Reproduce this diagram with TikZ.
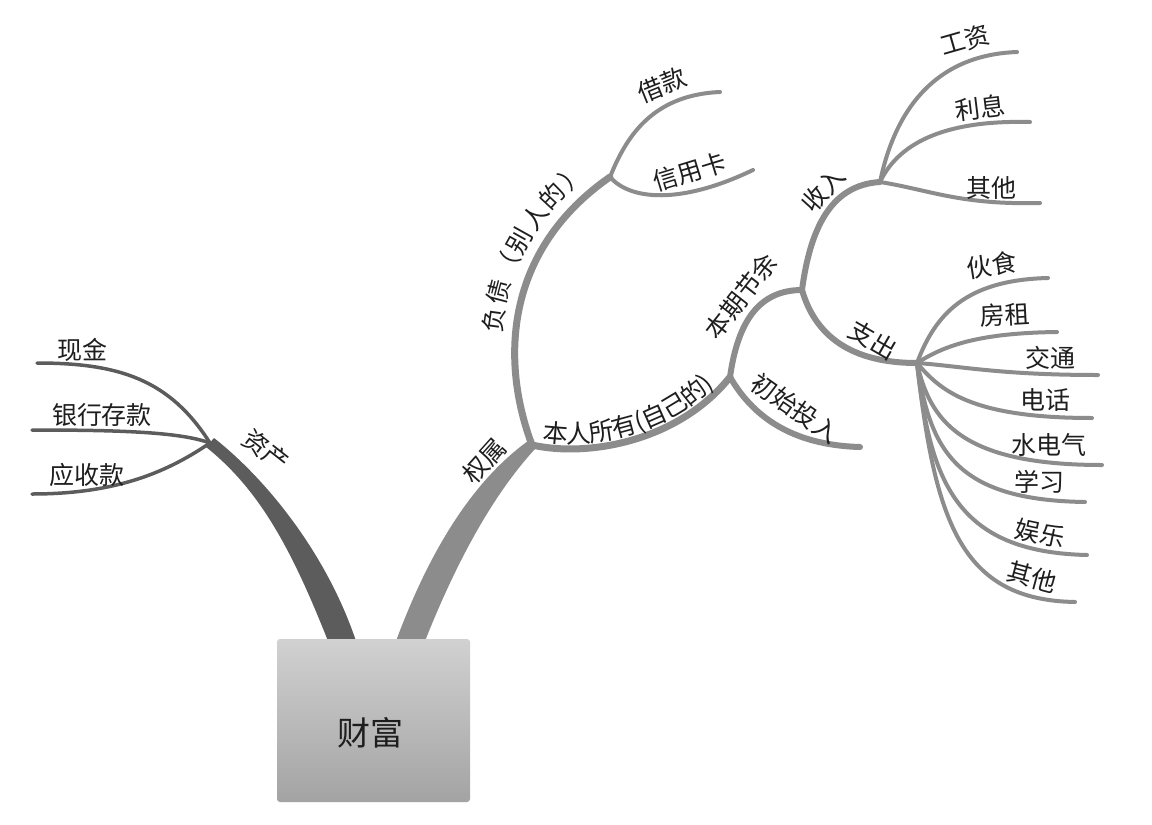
\documentclass[tikz,border=0pt]{standalone}
\usepackage{fontspec}
\setmainfont{Noto Sans CJK SC}
\usetikzlibrary{decorations.text}
\definecolor{br}{HTML}{8C8C8C}
\definecolor{brdark}{HTML}{5C5C5C}
\definecolor{txt}{HTML}{1E1E1E}
\begin{document}
\begin{tikzpicture}[x=1pt,y=-1pt,
  lbl/.style={font=\fontsize{25}{30}\selectfont, text=txt, inner sep=0pt},
  leaf/.style={draw=br, line width=4pt, line cap=round},
  midbr/.style={draw=br, line width=6pt, line cap=round},
  bigbr/.style={draw=br, line width=7pt, line cap=round},
  leafdark/.style={draw=brdark, line width=3.5pt, line cap=round},
  rootbox/.style={draw=none, top color=black!18, bottom color=black!36, rounded corners=3pt, minimum width=193pt, minimum height=163pt, inner sep=0pt},
  roottext/.style={font=\fontsize{33}{38}\selectfont, text=txt, inner sep=0pt},
  curvlbl/.style={decorate, decoration={text along path, text color=txt}}
]
\useasboundingbox (0,0) rectangle (1152,825);
\fill[white] (0,0) rectangle (1152,825);

% junctions
\coordinate (J0) at (210,443);
\coordinate (J1) at (532,445);
\coordinate (J2) at (610,177);
\coordinate (J6) at (730,377);
\coordinate (J3) at (802,290);
\coordinate (J4) at (880,182);
\coordinate (J5) at (917,363);
% leaf ends
\coordinate (eXianjin) at (37,363);
\coordinate (eYinhang) at (32,430);
\coordinate (eYingshou) at (32,494);
\coordinate (eJiekuan) at (720,92);
\coordinate (eXinyong) at (753,170);
\coordinate (eChushi) at (860,447);
\coordinate (eGongzi) at (1017,52);
\coordinate (eLixi) at (1030,122);
\coordinate (eQitaA) at (1040,203);
\coordinate (eHuoshi) at (1048,278);
\coordinate (eFangzu) at (1057,332);
\coordinate (eJiaotong) at (1098,375);
\coordinate (eDianhua) at (1092,418);
\coordinate (eShuidian) at (1102,465);
\coordinate (eXuexi) at (1085,502);
\coordinate (eYule) at (1087,555);
\coordinate (eQitaB) at (1075,602);

% trunks
\fill[brdark] (328,641) .. controls (292,550) and (260,490) .. (206,447)
   -- (214,438) .. controls (265,478) and (326,552) .. (356,641) -- cycle;
\fill[br] (396,641) .. controls (428,555) and (470,483) .. (528,441)
   -- (535,449) .. controls (490,498) and (454,568) .. (425,641) -- cycle;

% root box
\node[rootbox] (root) at (373.5,720.5) {};
\node[roottext] (rootlbl) at (370,733) {财富};

% left leaves
\draw[leafdark] (J0) .. controls (170,380) and (120,363) .. (eXianjin);
\draw[leafdark] (J0) .. controls (180,432) and (120,430) .. (eYinhang);
\draw[leafdark] (J0) .. controls (170,470) and (120,494) .. (eYingshou);

% main right branches
\draw[bigbr] (J1) .. controls (500,360) and (505,250) .. (J2);
\draw[bigbr] (J1) .. controls (590,458) and (680,440) .. (J6);
\draw[leaf] (J2) .. controls (625,140) and (650,95) .. (eJiekuan);
\draw[leaf] (J2) .. controls (630,200) and (680,205) .. (eXinyong);
\draw[midbr] (J6) .. controls (738,320) and (760,290) .. (J3);
\draw[midbr] (J6) .. controls (752,415) and (790,445) .. (eChushi);
\draw[midbr] (J3) .. controls (810,230) and (830,185) .. (J4);
\draw[midbr] (J3) .. controls (815,335) and (850,363) .. (J5);
% income
\draw[leaf] (J4) .. controls (895,110) and (935,55) .. (eGongzi);
\draw[leaf] (J4) .. controls (900,140) and (950,120) .. (eLixi);
\draw[leaf] (J4) .. controls (930,190) and (960,205) .. (eQitaA);
% expenses
\draw[leaf] (J5) .. controls (935,315) and (965,280) .. (eHuoshi);
\draw[leaf] (J5) .. controls (945,345) and (980,333) .. (eFangzu);
\draw[leaf] (J5) .. controls (960,366) and (1000,375) .. (eJiaotong);
\draw[leaf] (J5) .. controls (940,390) and (970,418) .. (eDianhua);
\draw[leaf] (J5) .. controls (930,420) and (960,465) .. (eShuidian);
\draw[leaf] (J5) .. controls (930,450) and (955,500) .. (eXuexi);
\draw[leaf] (J5) .. controls (930,480) and (955,552) .. (eYule);
\draw[leaf] (J5) .. controls (935,520) and (960,600) .. (eQitaB);

% curved labels
\path[curvlbl, decoration={text={|\fontsize{25}{30}\selectfont|负债（别人的）}, text align={left indent=112pt}, raise=14pt}]
  (J1) .. controls (500,360) and (505,250) .. (J2);
\path[curvlbl, decoration={text={|\fontsize{25}{30}\selectfont|本人所有(自己的)}, text align={left indent=10pt}, raise=6pt}]
  (J1) .. controls (590,458) and (680,440) .. (J6);

% labels
\node[lbl] (lXianjin) at (82,350) {现金};
\node[lbl] (lYinhang) at (102,415) {银行存款};
\node[lbl] (lYingshou) at (87,475) {应收款};
\node[lbl, rotate=-38] (lZichan) at (266,450) {资产};
\node[lbl, rotate=48] (lQuanshu) at (484,461) {权属};
\node[lbl, rotate=22] (lJiekuan) at (662,85) {借款};
\node[lbl, rotate=17] (lXinyong) at (690,172) {信用卡};
\node[lbl, rotate=52] (lBenqi) at (741,296) {本期节余};
\node[lbl, rotate=-35] (lChushi) at (795,408) {初始投入};
\node[lbl, rotate=48] (lShouru) at (823,190) {收入};
\node[lbl, rotate=-30] (lZhichu) at (873,340) {支出};
\node[lbl, rotate=16] (lGongzi) at (965,40) {工资};
\node[lbl, rotate=7] (lLixi) at (980,108) {利息};
\node[lbl] (lQitaA) at (991,188) {其他};
\node[lbl, rotate=9] (lHuoshi) at (992,265) {伙食};
\node[lbl, rotate=3] (lFangzu) at (1005,315) {房租};
\node[lbl] (lJiaotong) at (1050,358) {交通};
\node[lbl] (lDianhua) at (1045,400) {电话};
\node[lbl] (lShuidian) at (1049,445) {水电气};
\node[lbl] (lXuexi) at (1039,482) {学习};
\node[lbl, rotate=-12] (lYule) at (1040,533) {娱乐};
\node[lbl, rotate=-15] (lQitaB) at (1032,577) {其他};
\end{tikzpicture}
\end{document}
